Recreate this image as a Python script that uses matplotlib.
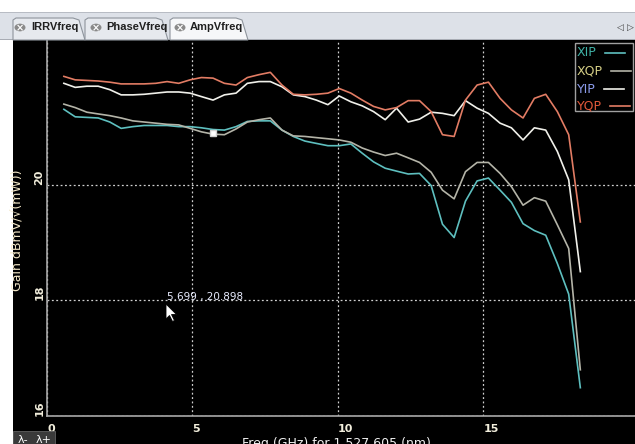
import numpy as np
import matplotlib
matplotlib.use('Agg')
import matplotlib.pyplot as plt
from matplotlib.patches import Rectangle, Polygon, Circle
from matplotlib.lines import Line2D

# sweep frequency (GHz) and gain per channel
freq = [0.58, 0.97, 1.37, 1.76, 2.16, 2.55, 2.95, 3.34, 3.74, 4.13,
        4.53, 4.92, 5.31, 5.71, 6.10, 6.50, 6.89, 7.29, 7.68, 8.08,
        8.47, 8.87, 9.26, 9.66, 10.05, 10.45, 10.84, 11.23, 11.63, 12.02,
        12.42, 12.81, 13.21, 13.60, 14.00, 14.39, 14.79, 15.18, 15.58, 15.97,
        16.37, 16.76, 17.15, 17.55, 17.94, 18.34]
xip = [21.31, 21.18, 21.17, 21.16, 21.09, 20.98, 21.01, 21.03, 21.03, 21.03,
       21.01, 21.01, 20.99, 20.96, 20.95, 21.01, 21.10, 21.11, 21.11, 20.95,
       20.84, 20.76, 20.72, 20.68, 20.68, 20.71, 20.55, 20.40, 20.29, 20.24,
       20.19, 20.20, 19.99, 19.32, 19.09, 19.72, 20.07, 20.12, 19.91, 19.70,
       19.33, 19.21, 19.13, 18.64, 18.11, 16.49]
xqp = [21.40, 21.34, 21.26, 21.23, 21.20, 21.16, 21.11, 21.09, 21.07, 21.05,
       21.04, 20.98, 20.92, 20.88, 20.87, 20.97, 21.09, 21.13, 21.16, 20.95,
       20.85, 20.84, 20.82, 20.80, 20.78, 20.74, 20.64, 20.57, 20.51, 20.55,
       20.47, 20.39, 20.22, 19.91, 19.76, 20.23, 20.39, 20.39, 20.20, 19.97,
       19.65, 19.78, 19.72, 19.31, 18.90, 16.80]
yip = [21.76, 21.69, 21.71, 21.71, 21.65, 21.56, 21.56, 21.57, 21.59, 21.61,
       21.61, 21.59, 21.53, 21.47, 21.56, 21.59, 21.76, 21.79, 21.79, 21.70,
       21.56, 21.53, 21.47, 21.39, 21.54, 21.44, 21.37, 21.27, 21.13, 21.33,
       21.09, 21.14, 21.26, 21.24, 21.20, 21.46, 21.33, 21.24, 21.07, 20.99,
       20.78, 20.99, 20.95, 20.58, 20.09, 18.50]
yqp = [21.88, 21.82, 21.81, 21.80, 21.78, 21.75, 21.75, 21.75, 21.76, 21.79,
       21.76, 21.82, 21.86, 21.85, 21.76, 21.73, 21.86, 21.91, 21.95, 21.73,
       21.57, 21.56, 21.57, 21.59, 21.67, 21.59, 21.47, 21.36, 21.30, 21.34,
       21.46, 21.46, 21.27, 20.87, 20.84, 21.47, 21.73, 21.78, 21.50, 21.30,
       21.16, 21.50, 21.57, 21.27, 20.87, 19.36]

series_names = ['XIP', 'XQP', 'YIP', 'YQP']
line_colors = ['#5ebfbf', '#b4b4a8', '#f0f0ea', '#e27c64']
label_colors = ['#3fb2a6', '#d6cf86', '#8c9cec', '#e2583a']
x_ticks = [0, 5, 10, 15]
y_ticks = [16, 18, 20]
cursor_freq, cursor_gain = 5.699, 20.898
tab_names = ['IRRVfreq', 'PhaseVfreq', 'AmpVfreq']

W, H = 635, 444


def fx(px):
    return px / W


def fy(py):
    return 1 - py / H


fig = plt.figure(figsize=(W / 100, H / 100), dpi=100, facecolor='white')

# dark chart panel and the tab strip above it
fig.add_artist(Rectangle((fx(13), 0), 1 - fx(13), fy(40), transform=fig.transFigure,
                         facecolor='black', edgecolor='none', zorder=0))
fig.add_artist(Rectangle((0, fy(40)), 1, fy(12) - fy(40), transform=fig.transFigure,
                         facecolor='#dde1e8', edgecolor='none', zorder=0))
fig.add_artist(Rectangle((0, fy(13)), 1, fy(12) - fy(13), transform=fig.transFigure,
                         facecolor='#b8bcc4', edgecolor='none', zorder=1))
fig.add_artist(Rectangle((0, fy(40)), 1, fy(39) - fy(40), transform=fig.transFigure,
                         facecolor='#a8acb4', edgecolor='none', zorder=1))

tab_edges = [(13, 85), (85, 168), (170, 248)]
icon_x = [20, 96, 180]
text_x = [31, 106, 190]
for k, name in enumerate(tab_names):
    x0, x1 = tab_edges[k]
    selected = k == len(tab_names) - 1
    pts = [(x0, 40), (x0, 20), (x0 + 3, 18), (x1 - 12, 18), (x1 - 6, 20), (x1, 40)]
    fig.add_artist(Polygon([(fx(a), fy(b)) for a, b in pts], closed=True,
                           transform=fig.transFigure,
                           facecolor='#f6f7f9' if selected else '#e6e9ee',
                           edgecolor='#8e949c', linewidth=0.8, zorder=2))
    fig.add_artist(Circle((fx(icon_x[k]), fy(27.5)), 5.5 / W, transform=fig.transFigure,
                          facecolor='#8a8a8a', edgecolor='none', zorder=3))
    fig.text(fx(icon_x[k]), fy(27.5), '×', color='white', fontsize=7, weight='bold',
             ha='center', va='center_baseline', zorder=4)
    fig.text(fx(text_x[k]), fy(27.5), name, color='#202020', fontsize=8,
             family='Liberation Sans', weight='bold', ha='left', va='center', zorder=4)
fig.text(fx(620), fy(27), '◁', color='#404040', fontsize=6.5, ha='center', va='center')
fig.text(fx(630), fy(27), '▷', color='#404040', fontsize=6.5, ha='center', va='center')

ax = fig.add_axes([fx(47), fy(416), 1 - fx(47), fy(40) - fy(416)])
ax.set_facecolor('black')

for vals, c in zip([xip, xqp, yip, yqp], line_colors):
    ax.plot(freq, vals, color=c, linewidth=1.2, zorder=3)

ax.plot([cursor_freq], [cursor_gain], marker='s', markersize=5, color='white',
        markeredgecolor='#d0d0d0', zorder=4)

ax.set_xlim(0.02, 20.22)
ax.set_ylim(16, 22.51)
ax.set_xticks(x_ticks)
ax.set_yticks(y_ticks)
ax.tick_params(length=0, labelsize=8, labelcolor='#f2eedc')
ax.tick_params(axis='x', pad=6)
ax.tick_params(axis='y', pad=2)
for lab in ax.get_xticklabels():
    lab.set_horizontalalignment('left')
    lab.set_fontweight('bold')
for lab in ax.get_yticklabels():
    lab.set_rotation(90)
    lab.set_verticalalignment('bottom')
    lab.set_fontweight('bold')

ax.grid(True, color='#d0d0d0', linestyle=(0, (1.5, 2)), linewidth=0.9)
ax.set_axisbelow(True)
for side in ['top', 'right']:
    ax.spines[side].set_visible(False)
for side in ['left', 'bottom']:
    ax.spines[side].set_color('#a8a8a8')
    ax.spines[side].set_linewidth(1.2)

fig.text(fx(336), fy(437), 'Freq (GHz) for 1,527.605 (nm)', color='#f0f0f0',
         fontsize=9, ha='center', va='top')
fig.text(fx(18), fy(230), 'Gain dBmV/√(mW))', color='#f4e8c8', fontsize=9,
         rotation=90, ha='center', va='center')

# cursor readout
ax.annotate(f'{cursor_freq:.3f} , {cursor_gain:.3f}', xy=(fx(167), fy(297)),
            xycoords='figure fraction', color='#e8ecff', fontsize=7.5,
            ha='left', va='center')
tip = (166, 304)
arrow = [(0, 0), (0, 15), (3.5, 11.5), (6.5, 17.5), (8.5, 16.5), (5.5, 10.5), (10.5, 10.5)]
fig.add_artist(Polygon([(fx(tip[0] + a), fy(tip[1] + b)) for a, b in arrow], closed=True,
                       transform=fig.transFigure, facecolor='white',
                       edgecolor='black', linewidth=0.6, zorder=5))

# legend box drawn by hand so text is left aligned and the line follows it
fig.add_artist(Rectangle((fx(575), fy(111)), fx(633) - fx(575), fy(43) - fy(111),
                         transform=fig.transFigure, facecolor='black',
                         edgecolor='#a0a0a0', linewidth=1.0, zorder=6))
fig.canvas.draw()
renderer = fig.canvas.get_renderer()
row_y = [53, 71, 89, 106]
for name, lc, tc, ry in zip(series_names, line_colors, label_colors, row_y):
    t = fig.text(fx(577), fy(ry), name, color=tc, fontsize=9, ha='left',
                 va='center', zorder=7)
    bb = t.get_window_extent(renderer)
    x_end = bb.x1 + 8
    fig.add_artist(Line2D([x_end / W, (x_end + 20) / W], [fy(ry), fy(ry)],
                          transform=fig.transFigure, color=lc, linewidth=1.2, zorder=7))

# wavelength step buttons bottom left
fig.add_artist(Rectangle((fx(13), 0), fx(55) - fx(13), fy(431), transform=fig.transFigure,
                         facecolor='#3a3a3a', edgecolor='#606060', linewidth=0.6, zorder=6))
fig.text(fx(18), fy(440), 'λ-', color='white', fontsize=8, ha='left', va='center', zorder=7)
fig.text(fx(36), fy(440), 'λ+', color='white', fontsize=8, ha='left', va='center', zorder=7)

fig.savefig('out.png', dpi=100, facecolor=fig.get_facecolor())
